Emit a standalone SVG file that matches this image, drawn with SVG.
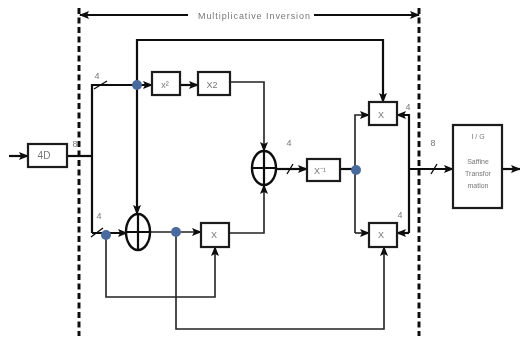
<svg xmlns="http://www.w3.org/2000/svg" width="521" height="339" viewBox="0 0 521 339">
<defs>
<marker id="a" markerUnits="userSpaceOnUse" markerWidth="11" markerHeight="10" refX="9" refY="5" orient="auto"><path d="M0,1 L10,5 L0,9 L2,5 Z" fill="#111"/></marker>
<filter id="soft" x="0" y="0" width="100%" height="100%"><feGaussianBlur stdDeviation="0.55"/></filter>
</defs>
<style>
.box{fill:#fff;stroke:#1a1a1a;stroke-width:2.2}
.w{fill:none;stroke:#222;stroke-width:1.6}
.t{fill:none;stroke:#111;stroke-width:2.2}
.d{fill:#4a6a9c}
text{font-family:"Liberation Sans",Arial,sans-serif;fill:#777;text-anchor:middle}
.s{font-size:9px}
.x{font-size:7px}
</style>
<rect width="521" height="339" fill="#fff"/>
<g filter="url(#soft)">
<g id="connectors">
<path d="M79,8V336M419,8V336" fill="none" stroke="#111" stroke-width="3" stroke-dasharray="6 3.5"/>
<path d="M188,15H80" class="t" stroke-width="3" marker-end="url(#a)"/>
<path d="M314,15H419" class="t" stroke-width="3" marker-end="url(#a)"/>
<path d="M9,156H28" class="t" marker-end="url(#a)"/>
<path d="M67,156H92" class="t"/>
<path d="M92,233V85H152" class="t" marker-end="url(#a)"/>
<path d="M92,233H127" class="t" marker-end="url(#a)"/>
<path d="M137,85V40H383V102" class="t" marker-end="url(#a)"/>
<path d="M137,85V214" class="t" marker-end="url(#a)"/>
<path d="M180,85H198" class="t" marker-end="url(#a)"/>
<path d="M230,82H264V151" class="w" marker-end="url(#a)"/>
<path d="M229,233H264V185" class="w" marker-end="url(#a)"/>
<path d="M150,232H201" class="w" marker-end="url(#a)"/>
<path d="M106,235V297H215V247" class="w" marker-end="url(#a)"/>
<path d="M176,232V329H384V247" class="w" marker-end="url(#a)"/>
<path d="M275,169H307" class="t" marker-end="url(#a)"/>
<path d="M340,169H356" class="t"/>
<path d="M355,233V115H369" class="w" marker-end="url(#a)"/>
<path d="M355,233H369" class="w" marker-end="url(#a)"/>
<path d="M409,169H453" class="t" marker-end="url(#a)"/>
<path d="M409,233V115H397" class="t" marker-end="url(#a)"/>
<path d="M409,233H397" class="t" marker-end="url(#a)"/>
<path d="M502,169H520" class="t" marker-end="url(#a)"/>
<path d="M94,89L107,81M91,237L103,228M287,174L293,164M431,174L437,164" stroke="#111" stroke-width="1.4"/>
<circle class="d" cx="137" cy="85" r="5"/>
<circle class="d" cx="106" cy="235" r="5"/>
<circle class="d" cx="176" cy="232" r="5"/>
<circle class="d" cx="356" cy="170" r="5"/>
</g>
<g id="inv"><text x="254" y="19" font-size="9" textLength="112" lengthAdjust="spacing">Multiplicative Inversion</text></g>
<g id="n-d"><rect class="box" x="28" y="144" width="39" height="23"/><text x="44" y="159" font-size="10">4D</text></g>
<g id="n-x2"><rect class="box" x="152" y="72" width="28" height="23"/><text class="s" x="165" y="88">x²</text></g>
<g id="n-x2b"><rect class="box" x="198" y="72" width="32" height="23"/><text class="s" x="212" y="88">X2</text></g>
<g id="n-xor1"><ellipse cx="138" cy="232" rx="12" ry="18" fill="#fff" stroke="#111" stroke-width="2.4"/><path d="M138,214V250M126,232H150" class="t"/></g>
<g id="n-xor2"><ellipse cx="264" cy="168" rx="12" ry="17" fill="#fff" stroke="#111" stroke-width="2.4"/><path d="M264,151V185M252,168H276" class="t"/></g>
<g id="n-mul1"><rect class="box" x="201" y="223" width="28" height="24"/><text class="s" x="214" y="238">X</text></g>
<g id="n-inv"><rect class="box" x="307" y="159" width="33" height="22"/><text class="s" x="320" y="174">X⁻¹</text></g>
<g id="n-mul2"><rect class="box" x="369" y="102" width="28" height="23"/><text class="s" x="381" y="118">X</text></g>
<g id="n-mul3"><rect class="box" x="369" y="223" width="28" height="24"/><text class="s" x="381" y="238">X</text></g>
<g id="n-aff"><rect class="box" x="453" y="125" width="49" height="83"/><text class="x" x="478" y="139">I / G</text><text class="x" x="478" y="164">Saffine</text><text class="x" x="478" y="176">Transfor</text><text class="x" x="478" y="188">mation</text></g>
<g id="labels"><text class="s" x="75" y="147">8</text><text class="s" x="97" y="79">4</text><text class="s" x="99" y="219">4</text><text class="s" x="289" y="146">4</text><text class="s" x="408" y="110">4</text><text class="s" x="400" y="218">4</text><text class="s" x="433" y="146">8</text></g>
</g>
</svg>
